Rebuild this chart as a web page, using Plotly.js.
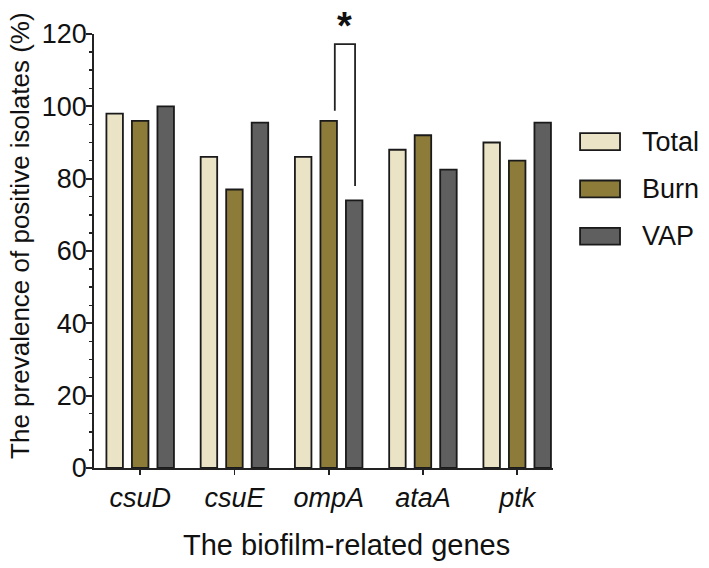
<!DOCTYPE html>
<html>
<head>
<meta charset="utf-8">
<script src="https://cdn.plot.ly/plotly-3.0.1.min.js"></script>
<style>html,body{margin:0;padding:0;background:#fff;}#chart{width:709px;height:568px;}</style>
</head>
<body>
<div id="chart"></div>
<script>
const genes = ["csuD", "csuE", "ompA", "ataA", "ptk"];
const seriesNames = ["Total", "Burn", "VAP"];
const totalValues = [98, 86, 86, 88, 90];
const burnValues = [96, 77, 96, 92, 85];
const vapValues = [100, 95.5, 74, 82.5, 95.5];
const seriesColors = ["#EAE3C6", "#8D7B39", "#5F5F5F"];
const yTickValues = [0, 20, 40, 60, 80, 100, 120];
const yTitle = "The prevalence of positive isolates (%)";
const xTitle = "The biofilm-related genes";
const sigLabel = "*";

const allValues = [totalValues, burnValues, vapValues];
const font = "Liberation Sans, Arial, sans-serif";

const traces = seriesNames.map((name, i) => ({
  type: "bar",
  name: name,
  x: genes.map((g, k) => k),
  y: allValues[i],
  marker: {color: seriesColors[i], line: {color: "#1a1a1a", width: 1.8}},
  showlegend: false,
  hoverinfo: "skip"
}));

// legend drawn manually in paper coords
const shapes = [];
const annotations = [];
seriesNames.forEach((name, i) => {
  const yc = 0.752 - i * 0.109;
  shapes.push({type: "rect", xref: "paper", yref: "paper",
    x0: 1.059, x1: 1.146, y0: yc - 0.0195, y1: yc + 0.0195,
    fillcolor: seriesColors[i], line: {color: "#1a1a1a", width: 1.8}});
  annotations.push({xref: "paper", yref: "paper", x: 1.19, y: yc,
    xanchor: "left", yanchor: "middle", showarrow: false, text: name,
    font: {family: font, size: 27, color: "#111"}});
});

// axis titles as annotations (positioned like the reference)
annotations.push({xref: "paper", yref: "paper", x: -0.161, y: 0.535,
  xanchor: "center", yanchor: "middle", showarrow: false, textangle: -90,
  text: yTitle, font: {family: font, size: 26, color: "#111"}});
annotations.push({xref: "paper", yref: "paper", x: 0.551, y: -0.178,
  xanchor: "center", yanchor: "middle", showarrow: false,
  text: xTitle, font: {family: font, size: 29, color: "#111"}});

// significance bracket between Burn and VAP for ompA
const gi = genes.indexOf("ompA");
const bx0 = gi + 0.065, bx1 = gi + 0.28;
const bTop = 117.2;
shapes.push({type: "path", xref: "x", yref: "y",
  path: `M${bx0},${burnValues[gi] + 2.8} L${bx0},${bTop} L${bx1},${bTop} L${bx1},${vapValues[gi] + 4}`,
  line: {color: "#222", width: 1.8}});
annotations.push({xref: "x", yref: "paper", x: (bx0 + bx1) / 2, y: 0.966,
  xanchor: "center", yanchor: "bottom", showarrow: false, text: "<b>" + sigLabel + "</b>",
  font: {family: font, size: 38, color: "#111"}});

const layout = {
  width: 709, height: 568,
  margin: {l: 94, r: 156, t: 34, b: 100},
  paper_bgcolor: "#fff", plot_bgcolor: "#fff",
  barmode: "group", bargap: 0.188, bargroupgap: 0.353,
  showlegend: false,
  font: {family: font, color: "#111"},
  xaxis: {
    range: [-0.49, 4.38],
    tickmode: "array", tickvals: genes.map((g, k) => k),
    ticktext: genes.map(g => "<i>" + g + "</i>"),
    tickfont: {family: font, size: 27, color: "#111"},
    ticks: "outside", ticklen: 5, tickwidth: 1.8, tickcolor: "#222",
    showline: true, linecolor: "#222", linewidth: 1.8,
    showgrid: false, zeroline: false
  },
  yaxis: {
    range: [0, 120],
    tickmode: "array", tickvals: yTickValues,
    tickfont: {family: font, size: 27, color: "#111"},
    ticks: "outside", ticklen: 6, tickwidth: 1.8, tickcolor: "#222",
    ticklabelstandoff: -6,
    minor: {dtick: 5, ticks: "outside", ticklen: 3.5, tickwidth: 1.4, tickcolor: "#222", showgrid: false},
    showline: true, linecolor: "#222", linewidth: 1.8,
    showgrid: false, zeroline: false
  },
  shapes: shapes,
  annotations: annotations
};

Plotly.newPlot("chart", traces, layout, {displayModeBar: false, staticPlot: true});
</script>
</body>
</html>
